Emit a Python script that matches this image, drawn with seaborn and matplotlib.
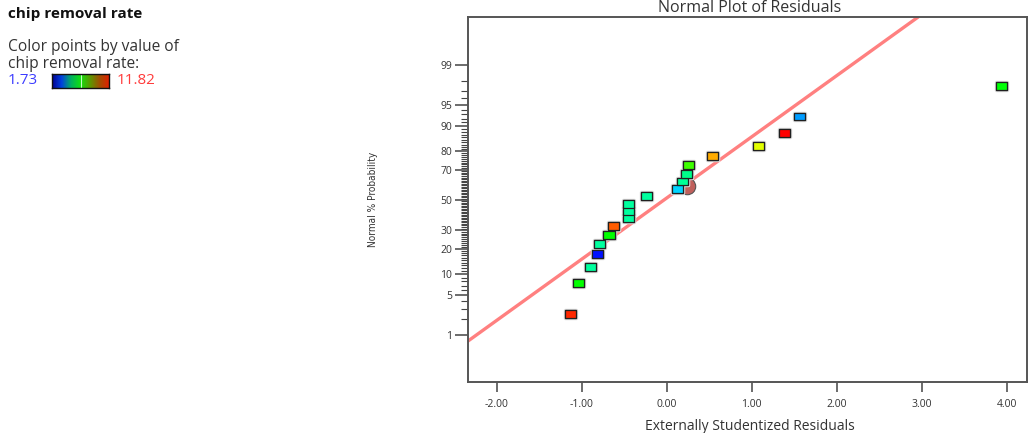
import numpy as np
import pandas as pd
import matplotlib
matplotlib.use("Agg")
import matplotlib.pyplot as plt
import seaborn as sns
from matplotlib.colors import LinearSegmentedColormap
from matplotlib.path import Path
from matplotlib import patheffects as pe
from statistics import NormalDist
from matplotlib import font_manager

# data
residuals = [-1.13, -1.04, -0.90, -0.82, -0.79, -0.68, -0.63, -0.45, -0.45, -0.45,
             -0.24, 0.13, 0.18, 0.23, 0.26, 0.54, 1.08, 1.39, 1.56, 3.94]
probability = [2.5, 7.5, 12.5, 17.5, 22.5, 27.5, 32.5, 37.5, 42.5, 47.5,
               52.5, 57.5, 62.5, 67.5, 72.5, 77.5, 82.5, 87.5, 92.5, 97.5]
removal_rate = [11.4, 6.8, 5.2, 1.9, 5.2, 6.8, 10.9, 5.2, 5.2, 5.2,
                5.2, 3.85, 5.3, 5.4, 7.4, 10.1, 9.0, 11.82, 3.3, 6.7]
rate_min, rate_max = 1.73, 11.82
line_x = [-2.0, 2.0]
line_p = [1.9, 98.4]
highlight_x, highlight_p = 0.24, 59.5
major_p = [1, 5, 10, 20, 30, 50, 70, 80, 90, 95, 99]
x_ticks = [-2, -1, 0, 1, 2, 3, 4]

df = pd.DataFrame({"resid": residuals, "prob": probability, "rate": removal_rate})

sns.set_style("white")
plt.rcParams["font.family"] = ["Open Sans", "DejaVu Sans"]
txt = "#333333"


def _weight(f):
    w = f.weight
    if isinstance(w, str):
        return {"normal": 400, "regular": 400, "book": 400, "medium": 500}.get(w.lower(), 700)
    return int(w)


# look for a regular-weight narrow face for the y label
narrow_font = None
for f in font_manager.fontManager.ttflist:
    is_narrow = "Narrow" in f.name or "Condensed" in f.name or str(f.stretch) in ("condensed", "semi-condensed")
    if is_narrow and 350 <= _weight(f) <= 500 and f.style == "normal":
        narrow_font = f
        break

nd = NormalDist()
_ppf = np.vectorize(nd.inv_cdf, otypes=[float])
_cdf = np.vectorize(nd.cdf, otypes=[float])


def fwd(p):
    p = np.clip(np.asarray(p, dtype=float) / 100.0, 1e-9, 1 - 1e-9)
    return _ppf(p)


def inv(z):
    return _cdf(np.asarray(z, dtype=float)) * 100.0


W, H = 1028, 433
fig = plt.figure(figsize=(W / 100, H / 100), dpi=100)
ax = fig.add_axes([468 / W, 1 - 382 / H, (1027 - 468) / W, (382 - 17) / H])
ax.set_yscale("function", functions=(fwd, inv))

pt_cmap = LinearSegmentedColormap.from_list(
    "pts", ["#0000ff", "#00ffff", "#00ff00", "#ffff00", "#ff0000"])

# fitted line
ax.axline((line_x[0], line_p[0]), (line_x[1], line_p[1]),
          color="#ff8080", lw=2.4, zorder=1)

# highlighted point behind the squares
ax.scatter([highlight_x], [highlight_p], s=140, color="#c0605c",
           edgecolor="#555555", linewidth=0.8, zorder=2)

rect = Path([(-1.4, -1), (1.4, -1), (1.4, 1), (-1.4, 1), (-1.4, -1)],
            [Path.MOVETO, Path.LINETO, Path.LINETO, Path.LINETO, Path.CLOSEPOLY])
sns.scatterplot(data=df, x="resid", y="prob", hue="rate", palette=pt_cmap,
                hue_norm=(rate_min, rate_max), marker=rect, s=64,
                edgecolor="#202020", linewidth=0.9, legend=False, ax=ax, zorder=3)
for coll in ax.collections[1:]:
    coll.set_path_effects([pe.withStroke(linewidth=2.5, foreground="#e0e0e0"), pe.Normal()])

ax.set_xlim(-2.34, 4.24)
ax.set_ylim(0.0845, 99.92)
ax.set_xticks(x_ticks)
ax.set_xticklabels([f"{v:.2f}" for v in x_ticks])
ax.set_yticks(major_p)
ax.set_yticklabels([str(v) for v in major_p])
ax.set_yticks([v for v in range(1, 100) if v not in major_p], minor=True)
ax.tick_params(axis="y", which="major", direction="out", length=9.5, width=1.1,
               color="#444444", labelsize=7.5, labelcolor=txt, pad=2, left=True)
ax.tick_params(axis="y", which="minor", direction="out", length=5, width=0.8,
               color="#444444", left=True)
ax.tick_params(axis="x", which="major", direction="out", length=7, width=1.1,
               color="#444444", labelsize=7.5, labelcolor=txt, pad=5, bottom=True)
for s in ax.spines.values():
    s.set_color("#555555")
    s.set_linewidth(1.4)
ax.set_xlabel("")
ax.set_ylabel("")

fig.text(750 / W, 1 - 8 / H, "Normal Plot of Residuals", ha="center", va="center",
         fontsize=11.5, color=txt)
fig.text(750 / W, 1 - 426 / H, "Externally Studentized Residuals", ha="center",
         va="center", fontsize=10, color=txt)
if narrow_font is not None:
    fig.text(373 / W, 1 - 199 / H, "Normal % Probability", ha="center", va="center",
             rotation=90, color=txt,
             fontproperties=font_manager.FontProperties(fname=narrow_font.fname, size=7.2))
else:
    fig.text(373 / W, 1 - 199 / H, "Normal % Probability", ha="center", va="center",
             rotation=90, fontsize=6.8, color=txt)

# colour legend on the left
fig.text(8 / W, 1 - 14 / H, "chip removal rate", ha="left", va="center",
         fontsize=11, fontweight="bold", color="#111111")
fig.text(8 / W, 1 - 47 / H, "Color points by value of", ha="left", va="center",
         fontsize=11.2, color=txt)
fig.text(8 / W, 1 - 64 / H, "chip removal rate:", ha="left", va="center",
         fontsize=11.2, color=txt)
fig.text(8 / W, 1 - 81 / H, f"{rate_min:.2f}", ha="left", va="center",
         fontsize=11, color="#3c3cff")
fig.text(117 / W, 1 - 81 / H, f"{rate_max:.2f}", ha="left", va="center",
         fontsize=11, color="#ff3c3c")
bar_cmap = LinearSegmentedColormap.from_list(
    "bar", ["#000090", "#0040e0", "#00b060", "#10e010", "#5a9a00", "#a05000", "#e02000"])
cax = fig.add_axes([52 / W, 1 - 88 / H, 57 / W, 14 / H])
cax.imshow(np.linspace(0, 1, 256)[None, :], aspect="auto", cmap=bar_cmap)
cax.axvline(128, color="#c0ffc0", lw=0.8)
cax.set_xticks([])
cax.set_yticks([])
for s in cax.spines.values():
    s.set_color("#111111")
    s.set_linewidth(1)

fig.savefig("out.png", dpi=100)
